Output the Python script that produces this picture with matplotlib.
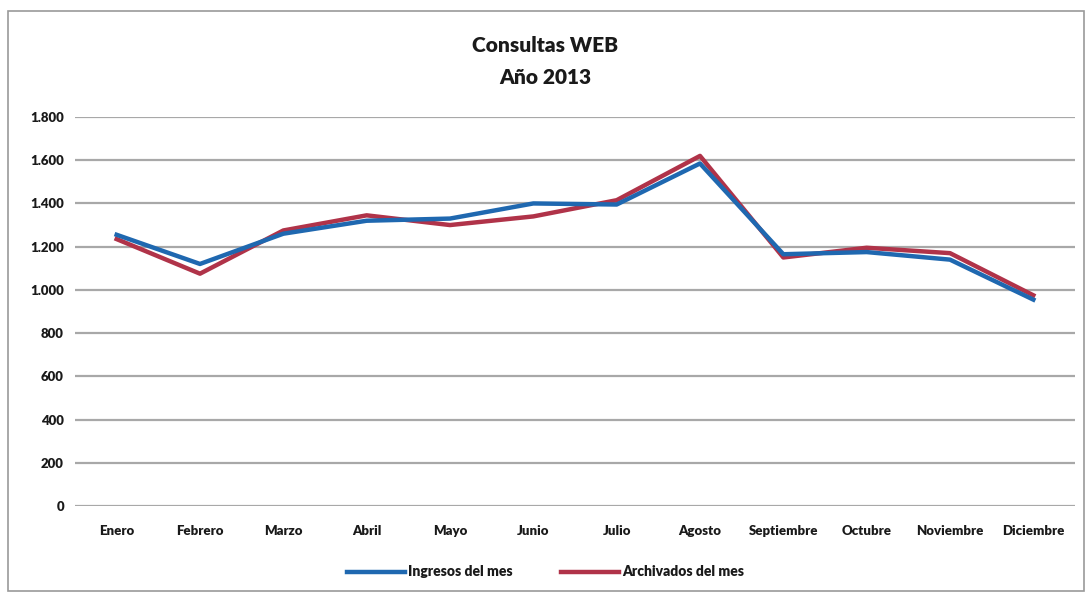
import matplotlib.pyplot as plt
from matplotlib.ticker import FuncFormatter
from matplotlib.patches import Rectangle

# data
months = ["Enero", "Febrero", "Marzo", "Abril", "Mayo", "Junio", "Julio",
          "Agosto", "Septiembre", "Octubre", "Noviembre", "Diciembre"]
ingresos = [1255, 1120, 1260, 1320, 1330, 1400, 1395, 1585, 1165, 1175, 1140, 955]
archivados = [1235, 1075, 1275, 1345, 1300, 1340, 1415, 1620, 1150, 1195, 1170, 975]
y_ticks = [0, 200, 400, 600, 800, 1000, 1200, 1400, 1600, 1800]

BLUE = "#1f68b0"
RED = "#b03349"
TEXT = "#1a1a1a"
WEIGHT = "heavy"

plt.rcParams["font.family"] = ["Lato", "DejaVu Sans"]

fig = plt.figure(figsize=(10.91, 5.97), dpi=100)
ax = fig.add_axes([75 / 1091, 1 - 506 / 597, 1000 / 1091, (506 - 117) / 597])

x = list(range(len(months)))
ax.plot(x, ingresos, color=BLUE, lw=3.2, label="Ingresos del mes", zorder=3)
ax.plot(x, archivados, color=RED, lw=3.2, label="Archivados del mes", zorder=2)

ax.set_xlim(-0.5, len(months) - 0.5)
ax.set_ylim(0, 1800)
ax.set_yticks(y_ticks)
ax.yaxis.set_major_formatter(FuncFormatter(lambda v, p: f"{int(v):,}".replace(",", ".")))
ax.set_xticks(x)
ax.set_xticklabels(months)
ax.grid(axis="y", color="#a8a8a8", lw=1.6)
ax.set_axisbelow(True)
for s in ax.spines.values():
    s.set_visible(False)
ax.tick_params(length=0, labelsize=9.5, colors=TEXT, pad=8)
ax.tick_params(axis="x", pad=14)
for lab in ax.get_xticklabels() + ax.get_yticklabels():
    lab.set_fontweight(WEIGHT)

fig.text(0.5, 1 - 45 / 597, "Consultas WEB", ha="center", va="center",
         fontsize=15, fontweight=WEIGHT, color=TEXT)
fig.text(0.5, 1 - 77 / 597, "Año 2013", ha="center", va="center",
         fontsize=15, fontweight=WEIGHT, color=TEXT)

leg = fig.legend(loc="center", bbox_to_anchor=(0.5, 1 - 572 / 597), ncol=2,
                 frameon=False, handlelength=4.2, handletextpad=0.2,
                 columnspacing=3.5, fontsize=10)
for t in leg.get_texts():
    t.set_fontweight(WEIGHT)
    t.set_color(TEXT)

# chart frame
fig.patches.append(Rectangle((8 / 1091, 6 / 597), 1076 / 1091, 580 / 597,
                             transform=fig.transFigure, fill=False,
                             edgecolor="#9a9a9a", lw=1.2))

fig.savefig("out.png", dpi=100)
